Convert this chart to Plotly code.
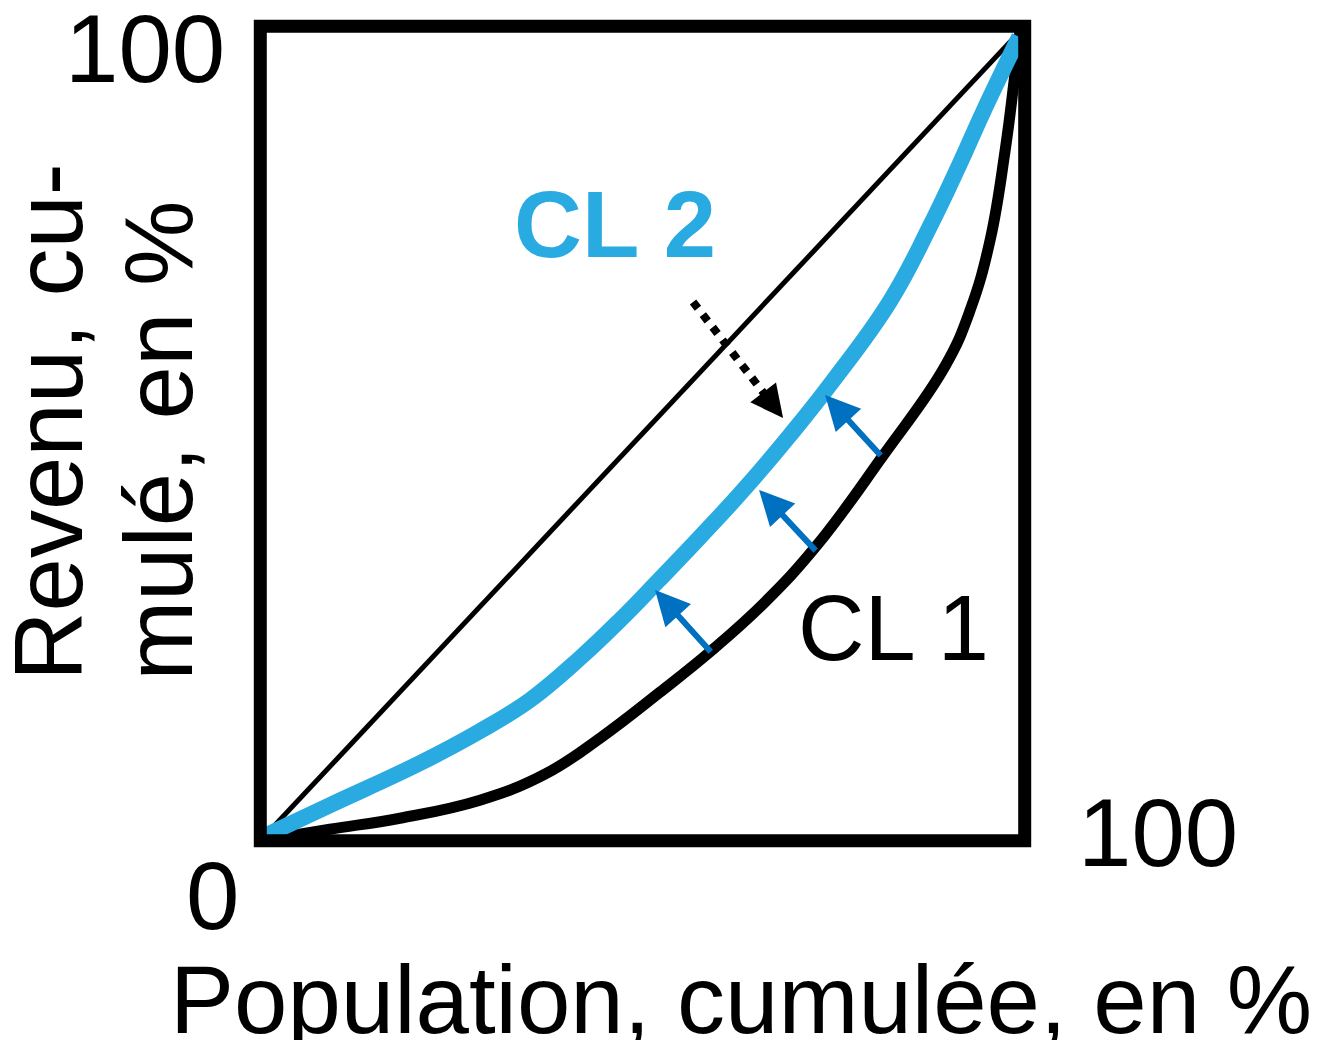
import plotly.graph_objects as go

# ---- data (cumulative % population vs cumulative % income) ----
diag_x = [0, 100]
diag_y = [0, 100]

cl1_x = [0, 9.10, 18.26, 28.73, 37.24, 44.44, 52.29, 59.10, 66.03, 72.84, 81.34, 89.59, 92.87, 95.48, 97.45, 98.63, 99.41]
cl1_y = [0, 1.41, 2.76, 4.98, 8.17, 12.59, 18.24, 23.40, 29.30, 36.30, 47.11, 58.29, 65.17, 73.77, 84.83, 93.43, 99.57]

cl2_x = [0.07, 9.10, 20.88, 28.73, 35.27, 41.82, 47.06, 52.03, 57.53, 63.42, 69.31, 74.80, 82.40, 87.63, 91.56, 94.57, 99.28]
cl2_y = [0.37, 4.36, 9.52, 13.45, 17.26, 22.42, 27.09, 31.88, 37.29, 43.30, 49.82, 56.33, 66.28, 75.49, 83.23, 89.50, 98.71]

# shift arrows (tail on CL1 -> tip on CL2)
shift_tail_x = [59.10, 72.84, 81.34]
shift_tail_y = [23.03, 35.44, 47.11]
shift_tip_x = [51.64, 65.25, 73.89]
shift_tip_y = [30.77, 43.06, 54.73]

# dotted arrow
dot_tail = (56.61, 66.15)
dot_tip = (68.39, 51.90)

tick_labels = ["0", "100", "100"]

# ---- geometry ----
OFF = 8                      # page body margin
FW, FH = 1317, 1032
X0, X100 = 260.5 - OFF, 1024.5 - OFF
Y0, Y100 = 840.5 - OFF, 26.5 - OFF
PAD = 2.0
sx = (X100 - X0) / 100.0
sy = (Y0 - Y100) / 100.0
m_l = X0 - PAD * sx
m_r = FW - (X100 + PAD * sx)
m_t = Y100 - PAD * sy
m_b = FH - (Y0 + PAD * sy)
PW = FW - m_l - m_r
PH = FH - m_t - m_b

def px_paper(px):
    return (px - OFF - m_l) / PW
def py_paper(py):
    return (FH - m_b - (py - OFF)) / PH

FONT = "Liberation Sans, Arial, sans-serif"
BLUE = "#29ABE2"
DBLUE = "#0070C0"

fig = go.Figure()

fig.add_trace(go.Scatter(x=diag_x, y=diag_y, mode="lines",
                         line=dict(color="black", width=5), hoverinfo="skip"))
fig.add_trace(go.Scatter(x=cl1_x, y=cl1_y, mode="lines",
                         line=dict(color="black", width=11, shape="spline", smoothing=1.2),
                         hoverinfo="skip"))
fig.add_trace(go.Scatter(x=cl2_x, y=cl2_y, mode="lines",
                         line=dict(color=BLUE, width=16, shape="spline", smoothing=1.2),
                         hoverinfo="skip"))

# dotted shaft (stops short of the head)
frac = 0.80
fig.add_trace(go.Scatter(
    x=[dot_tail[0], dot_tail[0] + (dot_tip[0] - dot_tail[0]) * frac],
    y=[dot_tail[1], dot_tail[1] + (dot_tip[1] - dot_tail[1]) * frac],
    mode="lines", line=dict(color="black", width=8, dash="8px,8px"), hoverinfo="skip"))

annotations = []
for tx, ty, hx, hy in zip(shift_tail_x, shift_tail_y, shift_tip_x, shift_tip_y):
    annotations.append(dict(x=hx, y=hy, ax=tx, ay=ty, xref="x", yref="y", axref="x", ayref="y",
                            text="", showarrow=True, arrowhead=2, arrowsize=1.15, arrowwidth=6,
                            arrowcolor=DBLUE, standoff=0, startstandoff=0))
# dotted arrow head
annotations.append(dict(x=dot_tip[0], y=dot_tip[1],
                        ax=dot_tail[0] + (dot_tip[0] - dot_tail[0]) * 0.75,
                        ay=dot_tail[1] + (dot_tip[1] - dot_tail[1]) * 0.75,
                        xref="x", yref="y", axref="x", ayref="y",
                        text="", showarrow=True, arrowhead=2, arrowsize=1.0, arrowwidth=6.5,
                        arrowcolor="black", standoff=0))

def label(text, px, py, size=96, color="black", bold=False, angle=0, xanchor="center", yanchor="middle"):
    t = f"<b>{text}</b>" if bold else text
    annotations.append(dict(x=px_paper(px), y=py_paper(py), xref="paper", yref="paper", text=t,
                            showarrow=False, textangle=angle, xanchor=xanchor, yanchor=yanchor,
                            borderpad=0,
                            font=dict(family=FONT, size=size, color=color)))

label(tick_labels[1], 145.5, 48.5)
label(tick_labels[2], 1158, 832)
label(tick_labels[0], 213, 895)
label("Population, cumulée, en %", 741, 999)
label("CL 2", 615, 225, size=94, color=BLUE, bold=True)
label("CL 1", 893, 628, size=92)
label("Revenu, cu-", 48, 682, angle=-90, yanchor="bottom")
label("mulé, en %", 158, 682, angle=-90, yanchor="bottom")

fig.add_shape(type="rect", xref="x", yref="y", x0=0, y0=0, x1=100, y1=100,
              line=dict(color="black", width=13), layer="above")

fig.update_layout(
    width=FW, height=FH,
    margin=dict(l=m_l, r=m_r, t=m_t, b=m_b, pad=0),
    paper_bgcolor="white", plot_bgcolor="white",
    showlegend=False,
    xaxis=dict(range=[-PAD, 100 + PAD], visible=False, fixedrange=True),
    yaxis=dict(range=[-PAD, 100 + PAD], visible=False, fixedrange=True),
    annotations=annotations,
)

fig.write_html("out.html")
